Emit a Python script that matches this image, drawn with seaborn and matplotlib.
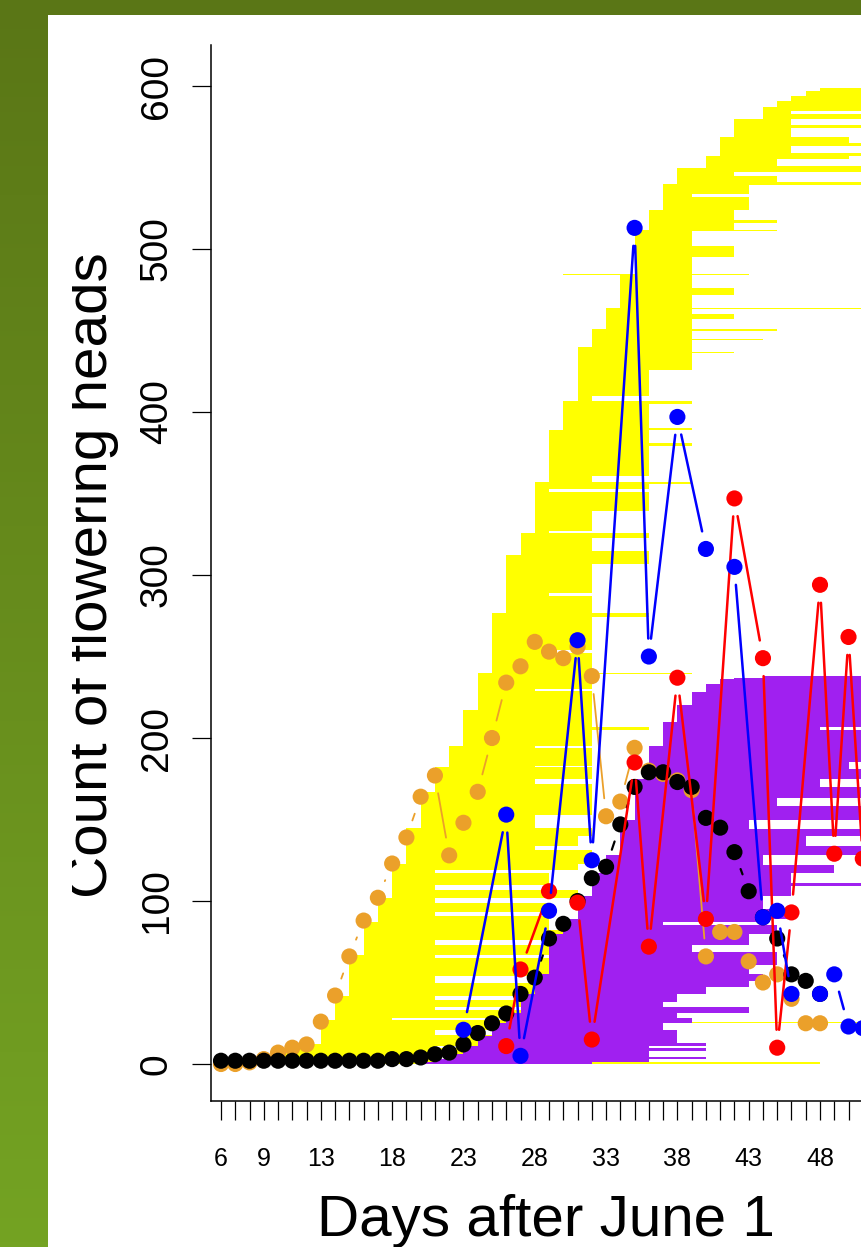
import numpy as np
import matplotlib
matplotlib.use("Agg")
import matplotlib.pyplot as plt
import seaborn as sns
from matplotlib.patches import Rectangle
from matplotlib.transforms import Bbox, TransformedBbox

# daily counts (days after June 1)
days = list(range(6, 49))
orange_counts = [0, 0, 1, 3, 7, 10, 12, 26, 42, 66, 88, 102, 123, 139, 164, 177, 128, 148,
                 167, 200, 234, 244, 259, 253, 249, 256, 238, 152, 161, 194, 180, 178, 174,
                 168, 66, 81, 81, 63, 50, 55, 40, 25, 25]
black_counts = [2, 2, 2, 2, 2, 2, 2, 2, 2, 2, 2, 2, 3, 3, 4, 6, 7, 12, 19, 25, 31, 43, 53,
                77, 86, 100, 114, 121, 147, 170, 179, 179, 173, 170, 151, 145, 130, 106, 90,
                77, 55, 51, 43]

blue_days = [23, 26, 27, 29, 31, 32, 35, 36, 38, 40, 42, 44, 45, 46, 48, 49, 50, 51]
blue_counts = [21, 153, 5, 94, 260, 125, 513, 250, 397, 316, 305, 90, 94, 43, 43, 55, 23, 22]
red_days = [26, 27, 29, 31, 32, 35, 36, 38, 40, 42, 44, 45, 46, 48, 49, 50, 51]
red_counts = [11, 58, 106, 99, 15, 185, 72, 237, 89, 347, 249, 10, 93, 294, 129, 262, 126]

# flowering periods of single heads, stacked bottom-up: runs of (start, end, number of heads)
yellow_start = [8, 9, 10, 10, 11, 12, 12,
                13, 13, 13, 13, 13, 14, 14, 14, 14, 14, 15, 15, 15, 15, 15,
                16, 16, 16, 16, 17, 17, 17, 17, 18, 18, 18, 18, 18,
                19, 19, 19, 19, 20, 20, 21, 21, 21, 22, 22, 22, 23, 23, 23,
                24, 24, 24, 24, 25, 25, 25, 25, 26, 26, 26, 26, 27, 27, 27,
                28, 28, 28, 28, 28, 28, 29, 29, 29, 29, 30, 30, 30,
                31, 31, 31, 31, 31, 32, 32, 32, 32, 33, 33, 33, 33,
                34, 34, 34, 30, 35, 35, 35, 35, 36, 36, 36, 37, 37, 37, 37,
                38, 38, 38, 38, 40, 40, 40, 41, 41, 41, 41, 42, 42, 42,
                44, 44, 44, 45, 46, 47, 48]
yellow_end = [48, 21, 21, 29, 29, 21, 29,
              29, 21, 29, 56, 29, 18, 29, 21, 29, 21, 29, 21, 31, 29, 21,
              29, 21, 31, 29, 29, 21, 29, 21, 31, 21, 29, 21, 31,
              32, 28, 31, 32, 28, 32, 32, 28, 32, 28, 32, 28, 32, 36, 32,
              32, 28, 32, 39, 32, 29, 32, 36, 32, 29, 32, 36, 36, 32, 36,
              29, 32, 36, 29, 36, 39, 32, 36, 39, 36, 39, 36, 39,
              32, 36, 39, 42, 39, 39, 44, 39, 45, 39, 42, 39, 56,
              39, 42, 39, 43, 39, 42, 39, 45, 42, 45, 42, 43, 39, 43, 56,
              56, 45, 42, 56, 56, 45, 50, 56, 46, 56, 50, 46, 56, 46,
              56, 46, 56, 56, 56, 56, 56]
yellow_n = [1, 2, 2, 2, 3, 1, 1,
            6, 3, 4, 1, 1, 1, 5, 2, 4, 3, 8, 4, 5, 6, 2,
            6, 3, 6, 5, 4, 2, 6, 3, 5, 3, 7, 2, 4,
            8, 3, 6, 5, 8, 14, 5, 3, 7, 1, 11, 1, 10, 2, 10,
            12, 1, 9, 1, 12, 2, 20, 3, 10, 2, 18, 5, 3, 8, 3,
            1, 12, 12, 2, 3, 1, 4, 18, 2, 8, 1, 15, 2,
            3, 16, 10, 1, 3, 4, 1, 5, 1, 6, 3, 3, 1,
            8, 4, 8, 1, 10, 7, 9, 1, 4, 2, 6, 8, 2, 5, 1,
            1, 4, 2, 3, 1, 4, 2, 2, 4, 2, 4, 5, 2, 4,
            3, 2, 2, 4, 3, 3, 2]

purple_start = [20, 21, 22, 22, 23, 23, 23, 24, 24, 25, 25, 26, 26, 27, 27, 27,
                28, 28, 28, 29, 29, 29, 29, 30, 30, 30, 31, 31, 32, 32, 32, 33, 33,
                34, 34, 34, 34, 35, 35, 35, 35, 36, 36, 36, 37, 37, 37,
                38, 39, 40, 41, 42, 44]
purple_end = [32, 36, 40, 36, 36, 40, 36, 40, 38, 38, 37, 39, 38, 43, 37, 38,
              40, 43, 44, 43, 45, 39, 43, 45, 37, 44, 46, 44, 46, 56, 46, 49, 44,
              56, 47, 56, 43, 56, 45, 56, 48, 56, 50, 56, 56, 48, 56,
              56, 56, 56, 56, 56, 56]
purple_n = [1, 2, 1, 2, 2, 2, 1, 2, 4, 4, 4, 3, 3, 4, 3, 5,
            4, 4, 4, 6, 8, 4, 7, 5, 2, 2, 6, 8, 6, 2, 6, 5, 6,
            6, 6, 4, 6, 8, 5, 7, 5, 6, 4, 10, 10, 2, 3,
            10, 8, 5, 3, 1, 1]

x_labels = {6: "6", 9: "9", 13: "13", 18: "18", 23: "23", 28: "28", 33: "33",
            38: "38", 43: "43", 48: "48"}

sns.set_style("ticks")
plt.rcParams["font.family"] = ["Liberation Sans", "DejaVu Sans"]
plt.rcParams["text.color"] = "black"
plt.rcParams["xtick.color"] = "black"
plt.rcParams["ytick.color"] = "black"

W, H = 862, 1247
fig = plt.figure(figsize=(W / 100, H / 100), dpi=100)

# green frame with white panel
bg = fig.add_axes([0, 0, 1, 1], zorder=-10)
grad = np.linspace(0, 1, 256).reshape(-1, 1)
green = matplotlib.colors.LinearSegmentedColormap.from_list("g", ["#5a7616", "#74a323"])
bg.imshow(grad, cmap=green, aspect="auto", extent=[0, 1, 0, 1], origin="upper")
bg.axis("off")
fig.patches.append(Rectangle((48 / W, 0), 1, (H - 15) / H, transform=fig.transFigure,
                             facecolor="white", edgecolor="none", zorder=-5))

ax = fig.add_axes([211 / W, (H - 1101) / H, 789 / W, 1056 / H])
ax.set_facecolor("none")
px_day = 14.262
ax.set_xlim(6 - 10 / px_day, 6 - 10 / px_day + 789 / px_day)
ax.set_ylim(-22.7, 625.2)

# stacked flowering periods
yb = np.concatenate([[0], np.cumsum(yellow_n)[:-1]])
ax.barh(yb, np.array(yellow_end) - np.array(yellow_start), height=yellow_n,
        left=yellow_start, align="edge", color="#ffff00", linewidth=0, zorder=1)
pb = np.concatenate([[0], np.cumsum(purple_n)[:-1]])
ax.barh(pb, np.array(purple_end) - np.array(purple_start), height=purple_n,
        left=purple_start, align="edge", color="#a020f0", linewidth=0, zorder=2)


def gapped(xs, ys, gap=18):
    # R type="b": segments stop short of the points
    pts = ax.transData.transform(np.column_stack([xs, ys]))
    inv = ax.transData.inverted()
    sx, sy = [], []
    for p0, p1 in zip(pts[:-1], pts[1:]):
        d = p1 - p0
        L = np.hypot(*d)
        if L <= 2 * gap:
            continue
        u = d / L
        a = inv.transform(p0 + u * gap)
        b = inv.transform(p1 - u * gap)
        sx += [a[0], b[0], np.nan]
        sy += [a[1], b[1], np.nan]
    return sx, sy


series = [(days, orange_counts, "#eba02a", 1.3),
          (days, black_counts, "black", 1.6),
          (red_days, red_counts, "#ff0000", 1.8),
          (blue_days, blue_counts, "#0000ff", 1.8)]
for i, (xs, ys, col, lw) in enumerate(series):
    sx, sy = gapped(xs, ys)
    ax.plot(sx, sy, color=col, lw=lw, zorder=3 + i)
    sns.scatterplot(x=xs, y=ys, color=col, s=135, edgecolor="none", ax=ax,
                    zorder=3 + i, legend=False)

# axes styling
for s in ["top", "right"]:
    ax.spines[s].set_visible(False)
for s in ["left", "bottom"]:
    ax.spines[s].set_linewidth(1.1)
    ax.spines[s].set_color("black")

ticks = list(range(6, 61))
ax.set_xticks(ticks)
ax.set_xticklabels([x_labels.get(t, "") for t in ticks])
ax.tick_params(axis="x", length=14, width=0.9, labelsize=18, pad=19, direction="out")
ax.set_yticks([0, 100, 200, 300, 400, 500, 600])
ax.tick_params(axis="y", length=14, width=0.9, labelsize=28, pad=12, direction="out")
for lab in ax.get_yticklabels():
    lab.set_rotation(90)
    lab.set_va("center")

fig.text(546 / W, 1 - 1221 / H, "Days after June 1", fontsize=42, ha="center", va="center")
yl = fig.text(92 / W, 1 - 575 / H, "Count of flowering heads", fontsize=42,
              rotation=90, ha="center", va="center")
# the reference label is cut along its top edge
yl.set_clip_box(TransformedBbox(Bbox([[72 / W, 0], [1, 1]]), fig.transFigure))
yl.set_clip_on(True)

fig.savefig("out.png", dpi=100)
